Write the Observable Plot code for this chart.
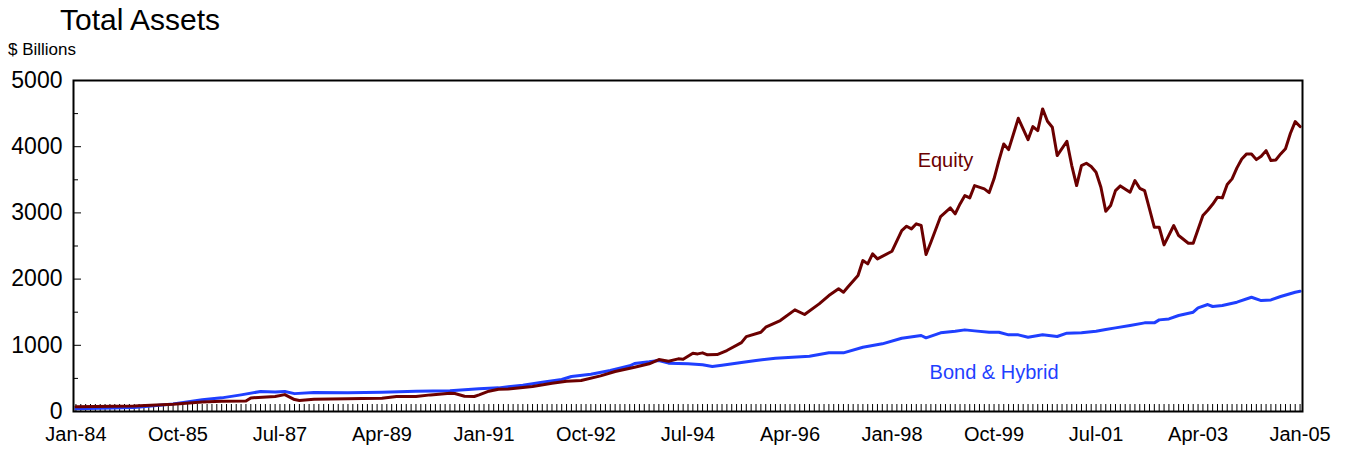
<!DOCTYPE html>
<html><head><meta charset="utf-8">
<script src="https://cdn.jsdelivr.net/npm/d3@7"></script>
<script src="https://cdn.jsdelivr.net/npm/@observablehq/plot@0.6"></script>
<style>
body{margin:0;background:#fff;font-family:"Liberation Sans",Arial,sans-serif;}
#wrap{position:relative;width:1350px;height:454px;}
#title{position:absolute;left:60px;top:5px;font-size:30px;line-height:1;color:#000;}
#sub{position:absolute;left:8px;top:41px;font-size:17px;line-height:1;color:#000;}
#chart{position:absolute;left:0;top:0;}
</style></head><body>
<div id="wrap"><div id="chart"></div><div id="title">Total Assets</div><div id="sub">$ Billions</div></div>
<script>
const monthNames = ["Jan","Feb","Mar","Apr","May","Jun","Jul","Aug","Sep","Oct","Nov","Dec"];
const tickLabels = ["Jan-84","Oct-85","Jul-87","Apr-89","Jan-91","Oct-92","Jul-94","Apr-96","Jan-98","Oct-99","Jul-01","Apr-03","Jan-05"];
const yTicks = [0,1000,2000,3000,4000,5000];
const yMinorTicks = [500,1500,2500,3500,4500];

const equityMonths = ["1984-01","1985-01","1985-09","1986-03","1986-07","1986-12","1987-01","1987-06","1987-08","1987-10","1987-11","1988-02","1988-09","1988-12","1989-04","1989-07","1989-11","1990-02","1990-06","1990-07","1990-09","1990-11","1990-12","1991-02","1991-04","1991-06","1991-09","1991-11","1992-03","1992-06","1992-09","1993-01","1993-04","1993-08","1993-11","1994-01","1994-03","1994-05","1994-06","1994-08","1994-09","1994-10","1994-11","1995-01","1995-03","1995-06","1995-07","1995-10","1995-11","1996-02","1996-05","1996-07","1996-10","1996-12","1997-02","1997-03","1997-04","1997-06","1997-07","1997-08","1997-09","1997-10","1998-01","1998-03","1998-04","1998-05","1998-06","1998-07","1998-08","1998-09","1998-11","1999-01","1999-02","1999-03","1999-04","1999-05","1999-06","1999-08","1999-09","1999-10","1999-11","1999-12","2000-01","2000-03","2000-05","2000-06","2000-07","2000-08","2000-09","2000-10","2000-11","2001-01","2001-02","2001-03","2001-04","2001-05","2001-06","2001-07","2001-08","2001-09","2001-10","2001-11","2001-12","2002-02","2002-03","2002-04","2002-05","2002-06","2002-07","2002-08","2002-09","2002-11","2002-12","2003-02","2003-03","2003-05","2003-06","2003-07","2003-08","2003-09","2003-10","2003-11","2003-12","2004-01","2004-02","2004-03","2004-04","2004-05","2004-06","2004-07","2004-08","2004-09","2004-10","2004-11","2004-12","2005-01"];
const equityValues = [70,82,108,142,155,158,205,228,255,180,166,186,191,196,201,226,226,251,277,272,231,226,251,307,337,340,362,378,428,458,468,538,604,669,720,785,760,795,790,880,870,886,856,860,921,1040,1132,1198,1273,1374,1535,1465,1626,1752,1853,1802,1888,2054,2280,2230,2381,2306,2421,2733,2799,2759,2835,2810,2371,2557,2945,3076,2985,3136,3262,3227,3413,3363,3307,3514,3790,4042,3956,4429,4107,4304,4243,4571,4384,4293,3866,4082,3715,3413,3715,3750,3700,3614,3388,3025,3111,3337,3408,3312,3488,3372,3337,3061,2783,2783,2517,2809,2658,2542,2542,2960,3040,3130,3237,3227,3428,3514,3680,3815,3891,3891,3805,3856,3941,3790,3800,3891,3970,4200,4379,4304];

const bondMonths = ["1984-01","1985-01","1985-09","1986-03","1986-07","1986-11","1987-03","1987-06","1987-08","1987-10","1988-02","1988-09","1989-04","1989-11","1990-06","1990-12","1991-04","1991-09","1992-01","1992-05","1992-07","1992-11","1993-03","1993-07","1993-08","1993-11","1994-01","1994-03","1994-07","1994-10","1994-12","1995-02","1995-06","1995-09","1996-01","1996-08","1996-12","1997-03","1997-07","1997-11","1998-03","1998-07","1998-08","1998-11","1999-02","1999-04","1999-06","1999-09","1999-11","2000-01","2000-03","2000-05","2000-08","2000-11","2001-01","2001-04","2001-07","2001-09","2001-11","2002-02","2002-05","2002-07","2002-08","2002-10","2002-12","2003-03","2003-04","2003-06","2003-07","2003-09","2003-12","2004-03","2004-05","2004-07","2004-09","2004-12","2005-01"];
const bondValues = [40,62,115,176,206,251,302,296,302,270,287,282,292,307,312,342,357,398,443,483,528,564,619,690,725,750,770,730,720,705,680,700,740,770,805,835,886,886,971,1022,1107,1148,1113,1188,1213,1233,1218,1198,1198,1158,1158,1122,1158,1133,1183,1188,1213,1238,1263,1299,1339,1339,1384,1399,1450,1500,1566,1616,1586,1601,1651,1726,1676,1686,1737,1802,1817];

const seriesNames = ["Equity","Bond & Hybrid"];
const seriesColors = ["#6b0000","#1f3fff"];
const labelMonths = ["1998-12","1999-10"];
const labelValues = [3790,590];

const toIndex = s => { const [y,m] = s.split("-").map(Number); return (y-1984)*12 + (m-1); };
const labelIndex = s => { const [mn, yy] = s.split("-"); const y = (+yy < 50 ? 2000 : 1900) + +yy; return (y-1984)*12 + monthNames.indexOf(mn); };
const eq = equityMonths.map((d,i)=>({x: toIndex(d), y: equityValues[i]}));
const bd = bondMonths.map((d,i)=>({x: toIndex(d), y: bondValues[i]}));
const allMonths = d3.range(toIndex("1984-01"), toIndex("2005-01")+1);
const labelPos = tickLabels.map(labelIndex);
const labelMap = new Map(tickLabels.map(s => [labelIndex(s), s]));
const annos = seriesNames.map((n,i)=>({name:n, x: toIndex(labelMonths[i]), y: labelValues[i], c: seriesColors[i]}));

const chart = Plot.plot({
  width: 1350, height: 454,
  marginLeft: 73, marginRight: 48, marginTop: 80, marginBottom: 43,
  style: {fontFamily: "'Liberation Sans', Arial, sans-serif", background: "transparent", color: "#000"},
  x: {type: "linear", domain: [-0.5, 252.5]},
  y: {domain: [0, 5000]},
  marks: [
    Plot.axisX(allMonths, {tickSize: -7, tickFormat: () => "", label: null, strokeWidth: 1}),
    Plot.axisX(labelPos, {tickSize: 0, tickPadding: 15, fontSize: 20, tickFormat: d => labelMap.get(d), label: null}),
    Plot.axisY(yTicks, {tickSize: -8, tickFormat: () => "", label: null}),
    Plot.axisY(yMinorTicks, {tickSize: -5, tickFormat: () => "", label: null}),
    Plot.axisY(yTicks, {tickSize: 0, tickPadding: 11, fontSize: 23, tickFormat: d => String(d), label: null}),
    Plot.line(bd, {x: "x", y: "y", stroke: seriesColors[1], strokeWidth: 3}),
    Plot.line(eq, {x: "x", y: "y", stroke: seriesColors[0], strokeWidth: 3}),
    Plot.text(annos, {x: "x", y: "y", text: "name", fill: "c", fontSize: 20, textAnchor: "middle"}),
    Plot.frame({stroke: "#000", strokeWidth: 2})
  ]
});
document.getElementById("chart").appendChild(chart);
</script>
</body></html>
